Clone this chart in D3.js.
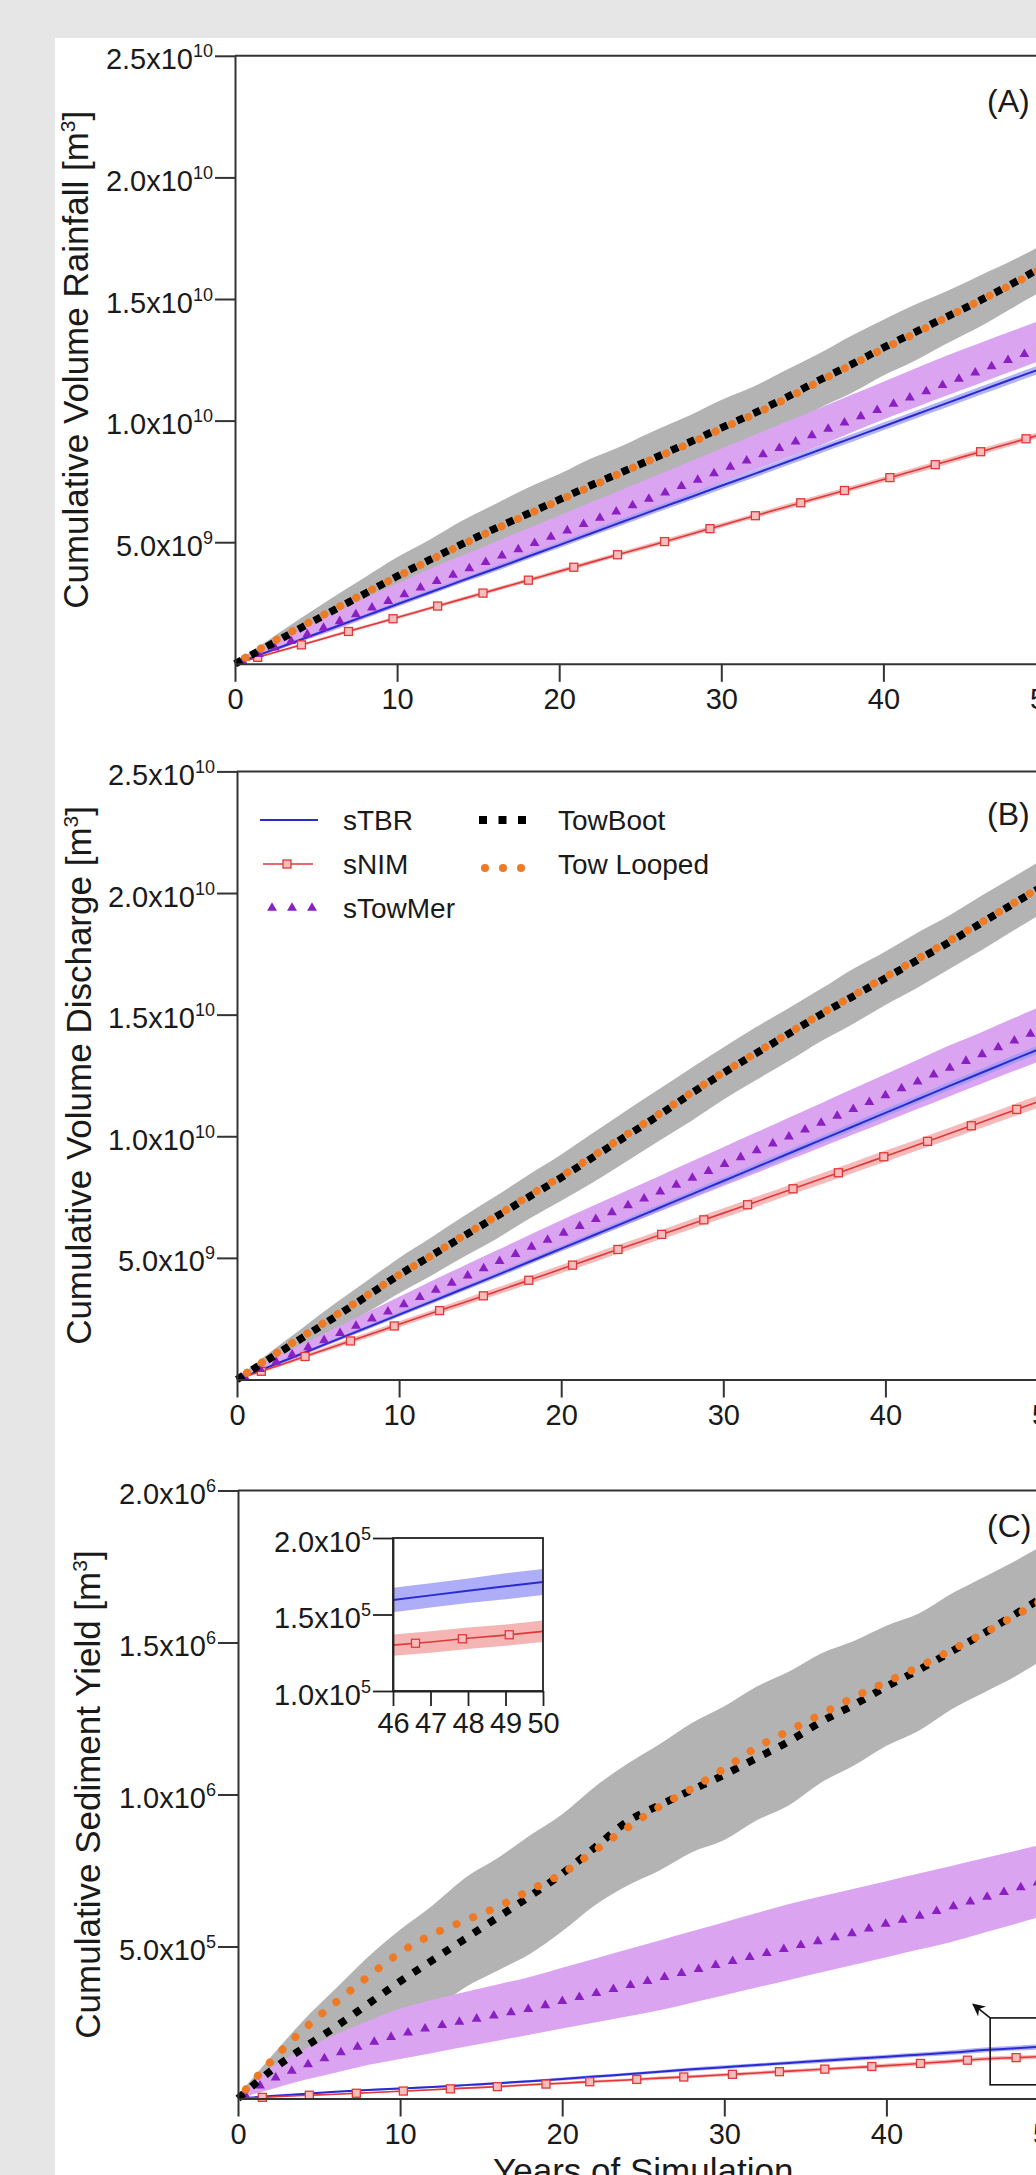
<!DOCTYPE html>
<html><head><meta charset="utf-8">
<script src="https://cdn.jsdelivr.net/npm/d3@7"></script>
<style>
html,body{margin:0;padding:0;background:#e6e6e6;}
svg{display:block;}
</style></head><body>
<svg id="chart" width="1036" height="2175"></svg>
<script>
// ---------------- DATA ----------------
const years = [0,2,4,6,8,10,12,14,16,18,20,22,24,26,28,30,32,34,36,38,40,42,44,46,48,50];
const xTickValues = [0,10,20,30,40,50];
const xTickLabels = ["0","10","20","30","40","50"];

// Panel A: cumulative volume rainfall (units of 1e9 m3)
const A_towBoot   = [0,0.72,1.45,2.17,2.88,3.6,4.27,4.92,5.55,6.15,6.75,7.35,7.92,8.5,9.1,9.7,10.3,10.95,11.65,12.3,13.0,13.65,14.3,14.95,15.65,16.4];
const A_towLooped = [0,0.78,1.5,2.2,2.9,3.58,4.25,4.9,5.52,6.12,6.72,7.3,7.9,8.48,9.05,9.66,10.25,10.9,11.6,12.28,12.95,13.6,14.28,14.95,15.62,16.35];
const A_towBootHi = [0.05,0.95,1.85,2.72,3.55,4.38,5.1,5.88,6.55,7.22,7.8,8.45,9.0,9.62,10.2,10.85,11.4,12.08,12.75,13.48,14.15,14.78,15.35,15.98,16.6,17.3];
const A_towBootLo = [0,0.5,1.05,1.62,2.25,2.82,3.45,3.98,4.55,5.08,5.7,6.28,6.85,7.38,7.95,8.52,9.2,9.82,10.5,11.12,11.85,12.48,13.2,13.88,14.65,15.4];
const A_towMer    = [0,0.54,1.08,1.62,2.18,2.73,3.28,3.8,4.32,4.84,5.35,5.87,6.38,6.9,7.42,7.95,8.46,8.98,9.5,10.02,10.53,11.04,11.55,12.06,12.56,13.06];
const A_towMerHi  = [0.05,0.75,1.4,2.05,2.7,3.3,3.9,4.45,5.0,5.55,6.1,6.65,7.2,7.75,8.3,8.85,9.4,9.95,10.5,11.05,11.6,12.15,12.7,13.2,13.7,14.2];
const A_towMerLo  = [0,0.42,0.9,1.35,1.85,2.35,2.85,3.35,3.85,4.35,4.85,5.35,5.85,6.4,6.9,7.45,7.95,8.45,8.95,9.5,10.05,10.55,11.05,11.55,12.05,12.55];
const A_tbr       = [0,0.49,0.98,1.47,1.96,2.45,2.93,3.42,3.9,4.39,4.88,5.37,5.86,6.35,6.83,7.32,7.8,8.29,8.78,9.27,9.76,10.25,10.74,11.23,11.72,12.2];
const A_tbrSd     = [0,0.05,0.06,0.07,0.08,0.09,0.1,0.1,0.11,0.11,0.12,0.12,0.13,0.13,0.14,0.14,0.15,0.15,0.15,0.16,0.16,0.16,0.17,0.17,0.17,0.18];
const A_nim       = [0,0.38,0.76,1.14,1.52,1.9,2.28,2.66,3.04,3.42,3.8,4.18,4.56,4.93,5.31,5.69,6.07,6.45,6.83,7.2,7.58,7.96,8.34,8.72,9.1,9.48];
const A_nimSd     = [0,0.04,0.05,0.06,0.06,0.07,0.07,0.08,0.08,0.08,0.09,0.09,0.09,0.1,0.1,0.1,0.1,0.11,0.11,0.11,0.11,0.12,0.12,0.12,0.12,0.12];
const A_nimMarks  = [1.4,4.1,7.0,9.75,12.5,15.3,18.1,20.9,23.6,26.5,29.3,32.1,34.9,37.6,40.4,43.2,46.0,48.8];

// Panel B: cumulative volume discharge (units of 1e9 m3)
const B_towBoot   = [0,0.85,1.7,2.55,3.42,4.3,5.1,5.9,6.7,7.5,8.3,9.15,10.0,10.85,11.75,12.6,13.4,14.2,15.0,15.75,16.5,17.25,18.0,18.8,19.6,20.4];
const B_towLooped = [0,0.9,1.75,2.6,3.45,4.3,5.1,5.92,6.72,7.55,8.35,9.2,10.05,10.9,11.78,12.62,13.42,14.22,15.02,15.78,16.55,17.3,18.05,18.82,19.62,20.42];
const B_towBootHi = [0.05,1.1,2.1,3.1,4.05,5.0,5.85,6.72,7.55,8.42,9.25,10.15,11.05,11.92,12.8,13.65,14.48,15.25,16.05,16.88,17.6,18.38,19.1,19.92,20.7,21.5];
const B_towBootLo = [0,0.6,1.3,2.0,2.75,3.55,4.28,5.05,5.78,6.6,7.35,8.12,8.95,9.8,10.62,11.5,12.3,13.08,13.9,14.62,15.4,16.12,16.9,17.68,18.5,19.3];
const B_towMer    = [0,0.6,1.2,1.8,2.4,3.0,3.6,4.2,4.8,5.4,5.98,6.55,7.12,7.69,8.26,8.83,9.4,9.97,10.54,11.11,11.68,12.25,12.82,13.38,13.94,14.5];
const B_towMerHi  = [0.05,0.8,1.45,2.1,2.75,3.4,4.05,4.68,5.3,5.93,6.55,7.15,7.75,8.35,8.95,9.55,10.15,10.75,11.35,11.95,12.55,13.15,13.75,14.3,14.88,15.45];
const B_towMerLo  = [0,0.45,0.98,1.52,2.06,2.6,3.14,3.68,4.22,4.76,5.3,5.83,6.36,6.89,7.42,7.95,8.48,9.01,9.54,10.07,10.6,11.13,11.66,12.18,12.7,13.22];
const B_tbr       = [0,0.53,1.06,1.6,2.13,2.67,3.2,3.74,4.28,4.83,5.38,5.93,6.48,7.04,7.6,8.16,8.72,9.28,9.84,10.4,10.96,11.52,12.08,12.63,13.18,13.72];
const B_tbrSd     = [0,0.05,0.06,0.07,0.08,0.09,0.1,0.1,0.11,0.11,0.12,0.12,0.13,0.13,0.14,0.14,0.15,0.15,0.15,0.16,0.16,0.16,0.17,0.17,0.17,0.18];
const B_nim       = [0,0.45,0.9,1.36,1.81,2.27,2.72,3.17,3.62,4.08,4.54,5.0,5.46,5.92,6.38,6.84,7.3,7.77,8.24,8.71,9.18,9.65,10.12,10.6,11.08,11.56];
const B_nimSd     = [0,0.06,0.08,0.1,0.11,0.12,0.13,0.14,0.15,0.16,0.17,0.18,0.18,0.19,0.2,0.2,0.21,0.21,0.22,0.22,0.23,0.23,0.24,0.24,0.25,0.25];
const B_nimMarks  = [1.5,4.2,7.0,9.7,12.5,15.2,18.0,20.7,23.5,26.2,28.8,31.5,34.3,37.1,39.9,42.6,45.3,48.1];

// Panel C: cumulative sediment yield (units of 1e5 m3)
const C_towBoot   = [0,0.9,1.65,2.35,3.1,3.85,4.55,5.25,5.95,6.65,7.4,8.25,9.1,9.65,10.15,10.65,11.2,11.75,12.4,12.95,13.55,14.1,14.7,15.3,15.95,16.6];
const C_towLooped = [0,1.2,2.25,3.15,4.0,4.8,5.4,5.85,6.3,6.85,7.4,8.15,8.9,9.6,10.2,10.85,11.55,12.1,12.65,13.2,13.7,14.2,14.75,15.3,15.9,16.5];
const C_towBootHi = [0.1,1.35,2.55,3.6,4.65,5.55,6.35,7.25,7.9,8.65,9.35,10.25,11.0,11.65,12.35,12.9,13.55,14.05,14.65,15.05,15.55,15.95,16.6,17.15,17.7,18.3];
const C_towBootLo = [0,0.5,0.9,1.3,1.8,2.3,2.9,3.65,4.2,4.75,5.5,6.35,7.0,7.5,8.1,8.5,9.15,9.65,10.4,10.95,11.6,12.1,12.8,13.35,13.9,14.55];
const C_towMer    = [0,0.6,1.05,1.45,1.8,2.1,2.35,2.55,2.75,2.95,3.2,3.45,3.7,3.95,4.2,4.45,4.7,4.95,5.2,5.45,5.75,6.0,6.3,6.6,6.9,7.2];
const C_towMerHi  = [0.05,1.0,1.6,2.1,2.55,2.95,3.25,3.5,3.75,4.0,4.3,4.6,4.9,5.2,5.5,5.8,6.1,6.4,6.65,6.9,7.15,7.4,7.65,7.9,8.15,8.4];
const C_towMerLo  = [0,0.3,0.6,0.85,1.1,1.3,1.5,1.7,1.9,2.1,2.3,2.5,2.7,2.9,3.15,3.4,3.65,3.9,4.15,4.4,4.65,4.9,5.15,5.45,5.75,6.05];
const C_tbr       = [0,0.08,0.15,0.22,0.28,0.33,0.38,0.44,0.5,0.57,0.64,0.72,0.8,0.88,0.96,1.03,1.1,1.17,1.24,1.31,1.37,1.44,1.51,1.595,1.655,1.712];
const C_tbrSd     = [0,0.01,0.02,0.02,0.03,0.03,0.03,0.04,0.04,0.04,0.05,0.05,0.05,0.05,0.06,0.06,0.06,0.06,0.07,0.07,0.07,0.07,0.08,0.08,0.08,0.085];
const C_nim       = [0,0.05,0.1,0.14,0.19,0.24,0.29,0.34,0.39,0.45,0.5,0.56,0.61,0.67,0.72,0.78,0.84,0.9,0.96,1.02,1.08,1.15,1.22,1.3,1.345,1.39];
const C_nimSd     = [0,0.01,0.01,0.02,0.02,0.03,0.03,0.03,0.04,0.04,0.04,0.05,0.05,0.05,0.05,0.06,0.06,0.06,0.06,0.06,0.07,0.07,0.07,0.07,0.07,0.07];
const C_nimMarks  = [1.5,4.4,7.3,10.2,13.1,16.0,19.0,21.7,24.6,27.5,30.5,33.4,36.2,39.1,42.1,45.0,48.0];

// Inset of panel C (years 46-50, units of 1e5 m3)
const insetYears   = [46,47,48,49,50];
const insetTbr     = [1.595,1.625,1.655,1.685,1.712];
const insetTbrSd   = [0.08,0.08,0.08,0.085,0.085];
const insetNim     = [1.30,1.32,1.345,1.365,1.39];
const insetNimSd   = [0.07,0.07,0.07,0.07,0.07];
const insetNimMarks = [46.6,47.85,49.1];
const insetXTicks  = [46,47,48,49,50];
const insetYTicks  = [1.0,1.5,2.0];
const insetYMain   = ["1.0x10","1.5x10","2.0x10"];
const insetYSup    = ["5","5","5"];

// tick labels
const yTicksAB = [5,10,15,20,25];
const yMainAB  = ["5.0x10","1.0x10","1.5x10","2.0x10","2.5x10"];
const ySupAB   = ["9","10","10","10","10"];
const yTicksC  = [5,10,15,20];
const yMainC   = ["5.0x10","1.0x10","1.5x10","2.0x10"];
const ySupC    = ["5","6","6","6"];

const legendNames = ["sTBR","sNIM","sTowMer","TowBoot","Tow Looped"];
const panelTitles = ["Cumulative Volume Rainfall [m","Cumulative Volume Discharge [m","Cumulative Sediment Yield [m"];
const panelTags = ["(A)","(B)","(C)"];
const xTitle = "Years of Simulation";

// ---------------- STYLE ----------------
const FONT = '"Liberation Sans", Arial, Helvetica, sans-serif';
const TXT = "#1a1a1a";
const AX = "#333333";
const C_GREY = "#b3b3b3", C_PURB = "#dba4f1", C_BLUEB = "#9a9af6", C_REDB = "#f3a3a3";
const C_BLUE = "#2a2ad2", C_RED = "#e03838", C_PUR = "#8a1fc2", C_ORG = "#ee7a26";

const svg = d3.select("#chart");
svg.append("rect").attr("width",1036).attr("height",2175).attr("fill","#e6e6e6");
svg.append("rect").attr("x",55).attr("y",38).attr("width",981).attr("height",2137).attr("fill","#ffffff");

function txt(sel){ return sel.attr("font-family",FONT).attr("fill",TXT).attr("stroke","none"); }

const panels = [
  {x0:235, yT:55.8, yB:663.8, yMax:25, towBoot:A_towBoot, towLooped:A_towLooped, gHi:A_towBootHi, gLo:A_towBootLo,
   mer:A_towMer, mHi:A_towMerHi, mLo:A_towMerLo, tbr:A_tbr, tbrSd:A_tbrSd, nim:A_nim, nimSd:A_nimSd, marks:A_nimMarks,
   yTicks:yTicksAB, yMain:yMainAB, ySup:ySupAB, titleX:88, tagY:112},
  {x0:237, yT:771.4, yB:1379.5, yMax:25, towBoot:B_towBoot, towLooped:B_towLooped, gHi:B_towBootHi, gLo:B_towBootLo,
   mer:B_towMer, mHi:B_towMerHi, mLo:B_towMerLo, tbr:B_tbr, tbrSd:B_tbrSd, nim:B_nim, nimSd:B_nimSd, marks:B_nimMarks,
   yTicks:yTicksAB, yMain:yMainAB, ySup:ySupAB, titleX:91, tagY:825},
  {x0:238, yT:1490.5, yB:2098.5, yMax:20, towBoot:C_towBoot, towLooped:C_towLooped, gHi:C_towBootHi, gLo:C_towBootLo,
   mer:C_towMer, mHi:C_towMerHi, mLo:C_towMerLo, tbr:C_tbr, tbrSd:C_tbrSd, nim:C_nim, nimSd:C_nimSd, marks:C_nimMarks,
   yTicks:yTicksC, yMain:yMainC, ySup:ySupC, titleX:100, tagY:1537}
];

function nimSquares(g, xs, ys, markYears, xv, vals){
  const interp = d3.scaleLinear().domain(xv).range(vals);
  g.selectAll(null).data(markYears).join("rect")
    .attr("x", d => xs(d) - 4).attr("y", d => ys(interp(d)) - 4)
    .attr("width", 8).attr("height", 8)
    .attr("fill", "#f7bcbc").attr("stroke", C_RED).attr("stroke-width", 1.3);
}

function trianglesAlong(g, d, spacing, start){
  const p = g.append("path").attr("d", d).attr("fill","none").attr("stroke","none");
  const node = p.node(), L = node.getTotalLength();
  const pts = [];
  for (let s = start; s < L; s += spacing) pts.push(node.getPointAtLength(s));
  g.selectAll(null).data(pts).join("path")
    .attr("d", d3.symbol(d3.symbolTriangle, 42)())
    .attr("transform", q => `translate(${q.x},${q.y})`)
    .attr("fill", C_PUR);
}

panels.forEach((p, pi) => {
  const g = svg.append("g");
  const x = d3.scaleLinear().domain([0,50]).range([p.x0, p.x0 + 16.21*50]);
  const y = d3.scaleLinear().domain([0,p.yMax]).range([p.yB, p.yT]);
  const curve = d3.curveMonotoneX;
  const area = (lo, hi) => d3.area().curve(curve).x((d,i)=>x(years[i])).y0((d,i)=>y(lo[i])).y1((d,i)=>y(hi[i]))(years);
  const line = vals => d3.line().curve(curve).x((d,i)=>x(years[i])).y((d,i)=>y(vals[i]))(years);

  // bands
  g.append("path").attr("d", area(p.gLo, p.gHi)).attr("fill", C_GREY);
  g.append("path").attr("d", area(p.mLo, p.mHi)).attr("fill", C_PURB);
  const tLo = p.tbr.map((v,i)=>v - p.tbrSd[i]), tHi = p.tbr.map((v,i)=>v + p.tbrSd[i]);
  const nLo = p.nim.map((v,i)=>v - p.nimSd[i]), nHi = p.nim.map((v,i)=>v + p.nimSd[i]);
  g.append("path").attr("d", area(tLo, tHi)).attr("fill", C_BLUEB).attr("opacity",0.75);
  g.append("path").attr("d", area(nLo, nHi)).attr("fill", C_REDB).attr("opacity",0.75);

  // lines
  g.append("path").attr("d", line(p.tbr)).attr("fill","none").attr("stroke",C_BLUE).attr("stroke-width",2);
  g.append("path").attr("d", line(p.nim)).attr("fill","none").attr("stroke",C_RED).attr("stroke-width",1.6);
  nimSquares(g, x, y, p.marks, years, p.nim);
  trianglesAlong(g, line(p.mer), 17.5, 8);
  g.append("path").attr("d", line(p.towBoot)).attr("fill","none").attr("stroke","#000")
    .attr("stroke-width",7.5).attr("stroke-dasharray","7.5,10.5");
  g.append("path").attr("d", line(p.towLooped)).attr("fill","none").attr("stroke",C_ORG)
    .attr("stroke-width",8).attr("stroke-linecap","round").attr("stroke-dasharray","0.1,17.9").attr("stroke-dashoffset",-12);

  // axes
  const gx = g.append("g").attr("transform",`translate(0,${p.yB})`)
    .call(d3.axisBottom(x).tickValues(xTickValues).tickSize(18).tickSizeOuter(0).tickFormat(""));
  gx.attr("color",AX); gx.selectAll("path,line").attr("stroke-width",2);
  gx.selectAll(".tick").append("text").call(txt).attr("y",45).attr("text-anchor","middle")
    .attr("font-size",29).text((d,i)=>xTickLabels[i]);

  const gy = g.append("g").attr("transform",`translate(${p.x0},0)`)
    .call(d3.axisLeft(y).tickValues(p.yTicks).tickSize(20).tickSizeOuter(0).tickFormat(""));
  gy.attr("color",AX); gy.selectAll("path,line").attr("stroke-width",2);
  const yl = gy.selectAll(".tick").append("text").call(txt).attr("x",-22).attr("y",13)
    .attr("text-anchor","end").attr("font-size",29);
  yl.append("tspan").text((d,i)=>p.yMain[i]);
  yl.append("tspan").attr("font-size",18).attr("dy",-12).text((d,i)=>p.ySup[i]);

  g.append("line").attr("x1",x(0)).attr("x2",x(50)).attr("y1",p.yT).attr("y2",p.yT)
    .attr("stroke",AX).attr("stroke-width",2);

  // y title
  const ty = (p.yT + p.yB)/2;
  const t = g.append("text").call(txt).attr("font-size",35).attr("text-anchor","middle")
    .attr("transform",`translate(${p.titleX},${ty}) rotate(-90)`);
  t.append("tspan").text(panelTitles[pi]);
  t.append("tspan").attr("font-size",21).attr("dy",-13).text("3");
  t.append("tspan").attr("dy",13).text("]");

  // panel tag
  g.append("text").call(txt).attr("font-size",32).attr("x",987).attr("y",p.tagY).text(panelTags[pi]);

  p.x = x; p.y = y; p.g = g;
});

// ---------------- Legend (panel B) ----------------
(function(){
  const g = svg.append("g").attr("font-family",FONT);
  const rows = [820, 864, 908];
  g.append("line").attr("x1",260).attr("x2",318).attr("y1",rows[0]).attr("y2",rows[0]).attr("stroke",C_BLUE).attr("stroke-width",2);
  g.append("line").attr("x1",263).attr("x2",313).attr("y1",rows[1]).attr("y2",rows[1]).attr("stroke",C_RED).attr("stroke-width",1.6);
  g.append("rect").attr("x",283).attr("y",rows[1]-4).attr("width",8).attr("height",8).attr("fill","#f7bcbc").attr("stroke",C_RED).attr("stroke-width",1.3);
  g.selectAll(null).data([272,292,312]).join("path").attr("d", d3.symbol(d3.symbolTriangle,42)())
    .attr("transform", d=>`translate(${d},${rows[2]})`).attr("fill",C_PUR);
  g.append("line").attr("x1",479).attr("x2",527).attr("y1",rows[0]).attr("y2",rows[0]).attr("stroke","#000")
    .attr("stroke-width",8).attr("stroke-dasharray","8,11.5");
  g.selectAll(null).data([485,503,521]).join("circle").attr("cx",d=>d).attr("cy",rows[1]+4).attr("r",4).attr("fill",C_ORG);
  const lt = [[343,rows[0]+10,0],[343,rows[1]+10,1],[343,rows[2]+10,2],[558,rows[0]+10,3],[558,rows[1]+10,4]];
  g.selectAll(null).data(lt).join("text").call(txt).attr("font-size",28)
    .attr("x",d=>d[0]).attr("y",d=>d[1]).text(d=>legendNames[d[2]]);
})();

// ---------------- Zoom box, arrow and inset (panel C) ----------------
(function(){
  const p = panels[2], x = p.x, y = p.y, g = p.g;
  const zoomBox = {x0:46.4, x1:51, v0:0.45, v1:2.65};
  g.append("rect").attr("x",x(zoomBox.x0)).attr("y",y(zoomBox.v1))
    .attr("width",x(zoomBox.x1)-x(zoomBox.x0)).attr("height",y(zoomBox.v0)-y(zoomBox.v1))
    .attr("fill","none").attr("stroke","#111").attr("stroke-width",1.6);
  svg.append("defs").append("marker").attr("id","arr").attr("viewBox","0 0 10 10").attr("refX",9).attr("refY",5)
    .attr("markerWidth",8).attr("markerHeight",8).attr("orient","auto-start-reverse")
    .append("path").attr("d","M0,0 L10,5 L0,10 L3,5 Z").attr("fill","#111");
  g.append("line").attr("x1",x(zoomBox.x0)).attr("y1",y(zoomBox.v1)).attr("x2",x(45.35)).attr("y2",y(3.1))
    .attr("stroke","#111").attr("stroke-width",1.6).attr("marker-end","url(#arr)");

  // inset
  const gi = svg.append("g");
  const xi = d3.scaleLinear().domain([46,50]).range([393,543]);
  const yi = d3.scaleLinear().domain([1.0,2.0]).range([1691,1538]);
  gi.append("rect").attr("x",393).attr("y",1538).attr("width",150).attr("height",153).attr("fill","#fff");
  const ar = (lo,hi) => d3.area().x((d,i)=>xi(insetYears[i])).y0((d,i)=>yi(lo[i])).y1((d,i)=>yi(hi[i]))(insetYears);
  const ln = v => d3.line().x((d,i)=>xi(insetYears[i])).y((d,i)=>yi(v[i]))(insetYears);
  gi.append("path").attr("d", ar(insetTbr.map((v,i)=>v-insetTbrSd[i]), insetTbr.map((v,i)=>v+insetTbrSd[i]))).attr("fill",C_BLUEB).attr("opacity",0.8);
  gi.append("path").attr("d", ar(insetNim.map((v,i)=>v-insetNimSd[i]), insetNim.map((v,i)=>v+insetNimSd[i]))).attr("fill",C_REDB).attr("opacity",0.8);
  gi.append("path").attr("d", ln(insetTbr)).attr("fill","none").attr("stroke",C_BLUE).attr("stroke-width",2);
  gi.append("path").attr("d", ln(insetNim)).attr("fill","none").attr("stroke",C_RED).attr("stroke-width",1.6);
  nimSquares(gi, xi, yi, insetNimMarks, insetYears, insetNim);
  gi.append("rect").attr("x",393).attr("y",1538).attr("width",150).attr("height",153).attr("fill","none").attr("stroke","#222").attr("stroke-width",1.8);
  const gxi = gi.append("g").attr("transform","translate(0,1691)")
    .call(d3.axisBottom(xi).tickValues(insetXTicks).tickSize(15).tickSizeOuter(0).tickFormat(""));
  gxi.attr("color","#222"); gxi.selectAll("path,line").attr("stroke-width",1.8);
  gxi.selectAll(".tick").append("text").call(txt).attr("y",42).attr("text-anchor","middle").attr("font-size",29).text(d=>String(d));
  const gyi = gi.append("g").attr("transform","translate(393,0)")
    .call(d3.axisLeft(yi).tickValues(insetYTicks).tickSize(20).tickSizeOuter(0).tickFormat(""));
  gyi.attr("color","#222"); gyi.selectAll("path,line").attr("stroke-width",1.8);
  const yl = gyi.selectAll(".tick").append("text").call(txt).attr("x",-22).attr("y",13).attr("text-anchor","end").attr("font-size",29);
  yl.append("tspan").text((d,i)=>insetYMain[i]);
  yl.append("tspan").attr("font-size",18).attr("dy",-12).text((d,i)=>insetYSup[i]);

  // x title
  svg.append("text").call(txt).attr("font-size",35).attr("text-anchor","middle")
    .attr("x", (x(0)+x(50))/2).attr("y",2183).text(xTitle);
})();
</script>
</body></html>
